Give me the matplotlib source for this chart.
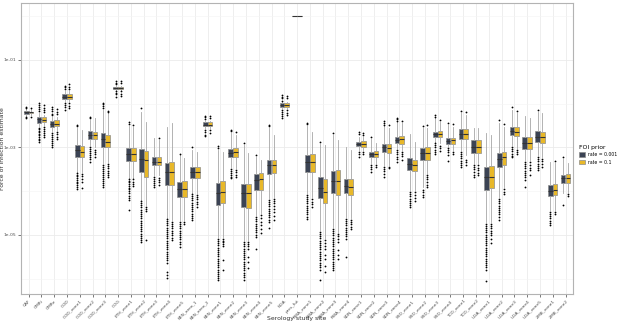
import numpy as np
import matplotlib
matplotlib.use("Agg")
import matplotlib.pyplot as plt
from matplotlib.patches import Patch

sites = ["CAF", "CMRi", "CMRe", "COD", "COD_zone1", "COD_zone2", "COD_zone3", "COG",
         "ETH_zone1", "ETH_zone2", "ETH_zone3", "ETH_zone4", "ETH_zone5",
         "KEN_area_1", "KEN_area_2", "KEN_zone1", "KEN_zone2", "KEN_zone3", "KEN_zone4",
         "KEN_zone5", "NGA", "pres_fut", "RWA_zone1", "RWA_zone2", "RWA_zone3", "RWA_zone4",
         "SDN_zone1", "SDN_zone2", "SDN_zone3", "SDN_zone4", "SSD_zone1", "SSD_zone2",
         "SSD_zone3", "SSD_zone4", "TCD_zone1", "TCD_zone2", "UGA_zone1", "UGA_zone2",
         "UGA_zone3", "UGA_zone4", "UGA_zone5", "ZMB_zone1", "ZMB_zone2"]

# box stats as log10(FOI)
# prior rate = 0.001 (dark)
lo_a = [-2.28, -2.51, -2.62, -1.94, -3.56, -2.94, -3.35, -1.69, -3.70, -4.20, -3.63, -4.61, -4.66,
        -4.04, -2.55, -5.05, -3.45, -5.11, -4.54, -4.15, -2.10, 0.0, -4.04, -4.89, -4.82, -4.59,
        -3.06, -3.35, -3.40, -3.01, -3.97, -3.90, -2.87, -2.97, -3.06, -3.35, -4.70, -4.13, -2.94,
        -3.29, -3.17, -4.43, -4.04]
q1_a = [-2.23, -2.44, -2.54, -1.89, -3.22, -2.81, -2.99, -1.67, -3.31, -3.56, -3.40, -3.86, -4.13,
        -3.70, -2.52, -4.31, -3.22, -4.36, -3.97, -3.61, -2.08, 0.0, -3.56, -4.15, -4.04, -4.04,
        -2.97, -3.22, -3.10, -2.90, -3.51, -3.29, -2.76, -2.92, -2.81, -3.13, -3.97, -3.45, -2.71,
        -3.03, -2.87, -4.11, -3.81]
med_a = [-2.20, -2.36, -2.46, -1.84, -3.07, -2.71, -2.81, -1.64, -3.15, -3.26, -3.33, -3.56, -3.95,
         -3.56, -2.48, -4.04, -3.13, -4.04, -3.74, -3.40, -2.04, 0.0, -3.33, -3.93, -3.77, -3.88,
         -2.92, -3.15, -2.99, -2.83, -3.38, -3.13, -2.69, -2.85, -2.69, -2.99, -3.67, -3.26, -2.62,
         -2.90, -2.76, -3.99, -3.70]
q3_a = [-2.17, -2.30, -2.39, -1.79, -2.94, -2.62, -2.67, -1.61, -3.01, -3.03, -3.22, -3.35, -3.79,
        -3.45, -2.43, -3.81, -3.03, -3.83, -3.61, -3.29, -1.99, 0.0, -3.17, -3.67, -3.54, -3.72,
        -2.87, -3.10, -2.92, -2.76, -3.24, -3.01, -2.65, -2.78, -2.58, -2.83, -3.45, -3.13, -2.53,
        -2.76, -2.62, -3.86, -3.63]
hi_a = [-2.12, -2.21, -2.30, -1.71, -2.55, -2.37, -2.14, -1.59, -2.51, -2.19, -2.78, -2.53, -3.17,
        -3.06, -2.39, -3.06, -2.67, -2.94, -3.22, -2.55, -1.96, 0.0, -2.51, -2.92, -2.71, -2.99,
        -2.76, -2.81, -2.51, -2.42, -2.69, -2.55, -2.33, -2.49, -2.21, -2.55, -2.67, -2.44, -2.14,
        -2.28, -2.19, -3.33, -3.26]
out_a = [
    [-2.07, -2.09, -2.31, -2.33],
    [-1.98, -2.03, -2.07, -2.12, -2.16, -2.55, -2.59, -2.62, -2.65, -2.69, -2.72, -2.76, -2.80, -2.83, -2.87],
    [-2.07, -2.12, -2.17, -2.23, -2.26, -2.67, -2.71, -2.76, -2.81, -2.85, -2.90, -2.95, -2.99],
    [-1.59, -1.63, -1.67, -1.98, -2.03, -2.08, -2.14],
    [-2.48, -2.51, -3.58, -3.62, -3.66, -3.70, -3.74, -3.78, -3.82, -3.86, -3.90, -3.94],
    [-2.30, -2.33, -2.99, -3.03, -3.08, -3.12, -3.17, -3.21, -3.26, -3.33],
    [-1.98, -2.02, -2.06, -2.10, -3.40, -3.45, -3.49, -3.54, -3.58, -3.63, -3.67, -3.72, -3.77, -3.81, -3.86, -3.90],
    [-1.48, -1.52, -1.55, -1.71, -1.75, -1.79, -1.85],
    [-2.43, -2.47, -3.72, -3.76, -3.80, -3.84, -3.88, -3.92, -3.96, -4.00, -4.05, -4.10, -4.15, -4.20, -4.43],
    [-2.10, -4.22, -4.27, -4.32, -4.37, -4.42, -4.47, -4.52, -4.57, -4.62, -4.67, -4.72, -4.77, -4.82, -4.87,
     -4.92, -4.97, -5.02, -5.07, -5.12, -5.16],
    [-3.67, -3.72, -3.77, -3.81, -3.86, -3.90],
    [-4.63, -4.68, -4.73, -4.78, -4.83, -4.88, -4.93, -4.98, -5.03, -5.08, -5.13, -5.18, -5.23, -5.28, -5.33,
     -5.38, -5.43, -5.48, -5.53, -5.57, -5.64, -5.85, -5.92, -5.98],
    [-3.15, -4.70, -4.75, -4.80, -4.85, -4.90, -4.95, -5.00, -5.05, -5.10, -5.15, -5.20, -5.27],
    [-3.00, -4.06, -4.11, -4.16, -4.21, -4.26, -4.31, -4.36, -4.41, -4.46, -4.51, -4.56, -4.61, -4.66],
    [-2.28, -2.31, -2.34, -2.60, -2.65, -2.71, -2.74],
    [-2.97, -3.01, -5.09, -5.14, -5.19, -5.24, -5.29, -5.34, -5.39, -5.44, -5.49, -5.54, -5.59, -5.64, -5.69,
     -5.74, -5.79, -5.84, -5.89, -5.94, -5.99, -6.03],
    [-2.60, -2.63, -3.49, -3.53, -3.58, -3.62, -3.67, -3.71],
    [-2.90, -5.16, -5.21, -5.26, -5.31, -5.36, -5.41, -5.46, -5.51, -5.56, -5.61, -5.66, -5.71, -5.76, -5.81,
     -5.86, -5.91, -5.96, -6.03],
    [-3.17, -4.59, -4.64, -4.69, -4.74, -4.79, -4.84, -4.89, -4.94, -5.00, -5.05, -5.32],
    [-2.49, -2.52, -4.20, -4.25, -4.30, -4.35, -4.40, -4.45, -4.50, -4.55, -4.60, -4.65, -4.70, -4.84],
    [-1.80, -1.84, -1.88, -1.93, -2.14, -2.19, -2.24, -2.28, -2.33],
    [],
    [-2.44, -2.47, -4.08, -4.13, -4.18, -4.23, -4.28, -4.33, -4.38, -4.43, -4.48, -4.53, -4.58, -4.63],
    [-2.87, -4.93, -4.98, -5.03, -5.08, -5.13, -5.18, -5.23, -5.28, -5.33, -5.38, -5.43, -5.48, -5.53, -5.58,
     -5.63, -5.68, -5.74, -5.80, -6.03],
    [-2.67, -4.86, -4.91, -4.96, -5.01, -5.06, -5.11, -5.16, -5.21, -5.26, -5.31, -5.36, -5.41, -5.46, -5.51,
     -5.56, -5.61, -5.66, -5.71, -5.76, -5.80],
    [-4.63, -4.68, -4.73, -4.78, -4.83, -4.88, -4.93, -4.98, -5.03, -5.10, -5.50],
    [-2.65, -2.70, -3.10, -3.15, -3.21],
    [-2.76, -3.40, -3.45, -3.50, -3.56],
    [-2.40, -2.44, -2.48, -3.45, -3.50, -3.55, -3.60, -3.67],
    [-2.33, -2.36, -2.39, -3.06, -3.11, -3.16, -3.21, -3.26, -3.33],
    [-4.02, -4.07, -4.12, -4.17, -4.22, -4.27, -4.32, -4.37],
    [-2.50, -3.97, -4.02, -4.08, -4.13],
    [-2.27, -2.30, -2.90, -2.95, -3.00, -3.05, -3.10, -3.15],
    [-2.44, -3.01, -3.06, -3.11, -3.17, -3.31],
    [-2.17, -3.10, -3.15, -3.20, -3.25, -3.30, -3.35, -3.40, -3.45],
    [-3.40, -3.45, -3.50, -3.56, -3.62, -3.67],
    [-4.74, -4.79, -4.84, -4.89, -4.94, -4.99, -5.04, -5.09, -5.14, -5.19, -5.24, -5.29, -5.34, -5.39, -5.44,
     -5.49, -5.54, -5.59, -5.64, -5.69, -5.74, -5.80, -6.05],
    [-2.38, -4.18, -4.23, -4.28, -4.33, -4.38, -4.43, -4.48, -4.53, -4.58, -4.66],
    [-2.07, -2.99, -3.04, -3.09, -3.14, -3.19, -3.22],
    [-3.33, -3.38, -3.43, -3.48, -3.53, -3.58, -3.63, -3.68, -3.74, -3.90],
    [-2.14, -3.22, -3.27, -3.32, -3.37, -3.42, -3.47, -3.52],
    [-4.47, -4.52, -4.57, -4.62, -4.67, -4.72, -4.78],
    [-3.22, -4.31],
]

# prior rate = 0.1 (yellow)
lo_b = [-2.27, -2.49, -2.60, -1.94, -3.56, -2.99, -3.33, -1.69, -3.70, -4.31, -3.63, -4.66, -4.66,
        -4.04, -2.55, -5.05, -3.47, -5.11, -4.50, -4.13, -2.10, 0.0, -4.13, -5.07, -4.93, -4.61,
        -3.06, -3.35, -3.40, -3.06, -3.97, -3.58, -2.90, -3.06, -3.17, -3.35, -4.70, -3.90, -3.01,
        -3.29, -3.22, -4.43, -4.02]
q1_b = [-2.22, -2.43, -2.52, -1.90, -3.22, -2.80, -2.99, -1.67, -3.31, -3.67, -3.40, -3.86, -4.13,
        -3.70, -2.52, -4.27, -3.22, -4.38, -3.97, -3.58, -2.08, 0.0, -3.56, -4.27, -4.09, -4.09,
        -2.98, -3.22, -3.12, -2.92, -3.54, -3.29, -2.76, -2.92, -2.81, -3.13, -3.93, -3.40, -2.74,
        -3.03, -2.90, -4.09, -3.81]
med_b = [-2.20, -2.37, -2.46, -1.84, -3.10, -2.71, -2.87, -1.64, -3.15, -3.29, -3.33, -3.56, -3.95,
         -3.56, -2.48, -4.02, -3.10, -4.04, -3.72, -3.40, -2.04, 0.0, -3.33, -4.02, -3.77, -3.90,
         -2.92, -3.15, -3.01, -2.81, -3.40, -3.13, -2.69, -2.84, -2.69, -2.99, -3.67, -3.22, -2.64,
         -2.90, -2.76, -3.97, -3.70]
q3_b = [-2.18, -2.30, -2.37, -1.79, -2.97, -2.64, -2.71, -1.61, -3.01, -3.08, -3.22, -3.33, -3.77,
        -3.45, -2.43, -3.77, -3.01, -3.83, -3.58, -3.29, -1.99, 0.0, -3.15, -3.72, -3.51, -3.72,
        -2.85, -3.08, -2.92, -2.74, -3.29, -2.99, -2.62, -2.78, -2.58, -2.83, -3.42, -3.10, -2.53,
        -2.76, -2.65, -3.83, -3.61]
hi_b = [-2.13, -2.26, -2.30, -1.71, -2.60, -2.33, -2.21, -1.59, -2.53, -2.42, -2.83, -2.44, -3.24,
        -3.10, -2.39, -3.10, -2.71, -3.13, -3.29, -2.71, -1.96, 0.0, -2.65, -2.94, -2.83, -3.06,
        -2.76, -2.90, -2.55, -2.44, -2.87, -2.55, -2.42, -2.53, -2.26, -2.55, -2.71, -2.53, -2.21,
        -2.33, -2.21, -3.35, -3.35]
out_b = [
    [-2.09, -2.31],
    [-2.03, -2.09, -2.14, -2.19, -2.53, -2.58, -2.62, -2.67, -2.72, -2.76],
    [-2.12, -2.19, -2.24, -2.65, -2.70, -2.76, -2.80],
    [-1.55, -1.62, -1.67, -1.99, -2.05, -2.09],
    [-3.60, -3.66, -3.73, -3.80, -3.92],
    [-3.06, -3.10, -3.15, -3.22],
    [-2.17, -2.19, -3.38, -3.43, -3.48, -3.53, -3.58, -3.63, -3.67],
    [-1.49, -1.54, -1.72, -1.78, -1.83],
    [-2.48, -3.73, -3.78, -3.83, -3.88],
    [-4.36, -4.40, -4.45, -5.11],
    [-2.78, -3.69, -3.74, -3.80, -3.85],
    [-4.70, -4.75, -4.80, -4.85, -4.90, -4.95, -5.00, -5.06, -5.11],
    [-4.70, -4.74],
    [-4.08, -4.13, -4.18, -4.24, -4.30, -4.36],
    [-2.29, -2.33, -2.61, -2.67],
    [-5.09, -5.13, -5.17, -5.21, -5.25, -5.57, -5.80],
    [-2.65, -3.51, -3.56, -3.62, -3.67],
    [-5.16, -5.21, -5.26, -5.31, -5.50, -5.62, -5.75],
    [-4.55, -4.62, -4.70, -4.78, -4.87, -4.95],
    [-4.18, -4.23, -4.28, -4.33, -4.40, -4.48, -4.57, -4.66],
    [-1.82, -1.87, -2.14, -2.21, -2.27],
    [],
    [-4.18, -4.24, -4.30, -4.36],
    [-5.12, -5.18, -5.25, -5.32, -5.45, -5.55, -5.70, -5.85],
    [-4.98, -5.03, -5.09, -5.15, -5.35, -5.45, -5.55],
    [-4.66, -4.71, -4.76, -4.81, -4.86],
    [-2.67, -2.72, -3.10, -3.14],
    [-3.40, -3.45],
    [-2.49, -3.44, -3.47],
    [-2.40, -3.10, -3.15, -3.20, -3.28],
    [-4.02, -4.08, -4.15, -4.23],
    [-2.49, -3.63, -3.68, -3.73, -3.80, -3.87, -3.90],
    [-2.37, -2.96, -3.02, -3.08],
    [-2.47, -3.11, -3.15],
    [-2.19, -3.29, -3.34, -3.40],
    [-3.40, -3.46, -3.52, -3.58, -3.63],
    [-4.75, -4.80, -4.85, -4.90, -4.95, -5.00, -5.10, -5.18],
    [-2.46, -3.96, -4.02, -4.07],
    [-2.16, -3.06, -3.10, -3.15],
    [-3.34, -3.40, -3.46, -3.52, -3.62],
    [-3.27, -3.32, -3.38, -3.44],
    [-3.32, -4.48, -4.53],
    [-4.06, -4.10],
]

groups = ["rate = 0.001", "rate = 0.1"]
fills = ["#3b4354", "#e8b829"]


def box_stats(lo, q1, med, q3, hi, out):
    stats = []
    for i in range(len(lo)):
        stats.append(dict(whislo=10 ** lo[i], q1=10 ** q1[i], med=10 ** med[i],
                          q3=10 ** q3[i], whishi=10 ** hi[i],
                          fliers=10 ** np.array(out[i], dtype=float)))
    return stats


fig = plt.figure(figsize=(6.17, 3.26), dpi=100)
ax = fig.add_axes([0.034, 0.098, 0.895, 0.893])

x = np.arange(len(sites))
width = 0.36
edge = "#8c8c8c"
for k, (stats, col) in enumerate([(box_stats(lo_a, q1_a, med_a, q3_a, hi_a, out_a), fills[0]),
                                  (box_stats(lo_b, q1_b, med_b, q3_b, hi_b, out_b), fills[1])]):
    pos = x + (k - 0.5) * 0.375
    ax.bxp(stats, positions=pos, widths=width, patch_artist=True, manage_ticks=False,
           boxprops=dict(facecolor=col, edgecolor=edge, linewidth=0.5),
           whiskerprops=dict(color="#a6a6a6", linewidth=0.6),
           capprops=dict(linewidth=0),
           medianprops=dict(color="#333333", linewidth=0.8),
           flierprops=dict(marker="o", markersize=1.3, markerfacecolor="black",
                           markeredgecolor="none", linestyle="none"))

ax.set_yscale("log")
ax.set_ylim(10 ** -6.35, 10 ** 0.30)
ax.set_xlim(-0.6, len(sites) - 0.4)

ax.set_yticks([1e-1, 1e-3, 1e-5])
ax.set_yticklabels(["1e-01", "1e-03", "1e-05"])
ax.set_yticks([1e0, 1e-2, 1e-4, 1e-6], minor=True)
ax.set_yticklabels([], minor=True)
ax.set_xticks(x)
ax.set_xticklabels(sites, rotation=45, ha="right", rotation_mode="anchor")

ax.grid(True, which="major", color="#ebebeb", linewidth=0.6)
ax.grid(True, which="minor", axis="y", color="#f4f4f4", linewidth=0.4)
ax.set_axisbelow(True)
ax.tick_params(axis="both", which="major", length=2, width=0.5, color="#444444",
               labelsize=3.2, labelcolor="#4d4d4d", pad=1.5)
ax.tick_params(axis="y", which="minor", length=0)
for s in ax.spines.values():
    s.set_color("#b3b3b3")
    s.set_linewidth(0.8)

ax.set_xlabel("Serology study site", fontsize=4.4, color="#333333")
ax.set_ylabel("Force of infection estimate", fontsize=4.4, color="#333333")
ax.xaxis.set_label_coords(0.5, -0.076)
ax.yaxis.set_label_coords(-0.029, 0.5)

handles = [Patch(facecolor=fills[i], edgecolor=edge, linewidth=0.5, label=groups[i]) for i in range(2)]
leg = fig.legend(handles=handles, title="FOI prior", loc="center left",
                 bbox_to_anchor=(0.937, 0.525), frameon=False, fontsize=3.3,
                 title_fontsize=4.4, handlelength=1.3, handleheight=1.2, labelspacing=0.5,
                 handletextpad=0.6, borderpad=0.2, borderaxespad=0)
leg._legend_box.align = "left"

fig.savefig("out.png", dpi=100)
